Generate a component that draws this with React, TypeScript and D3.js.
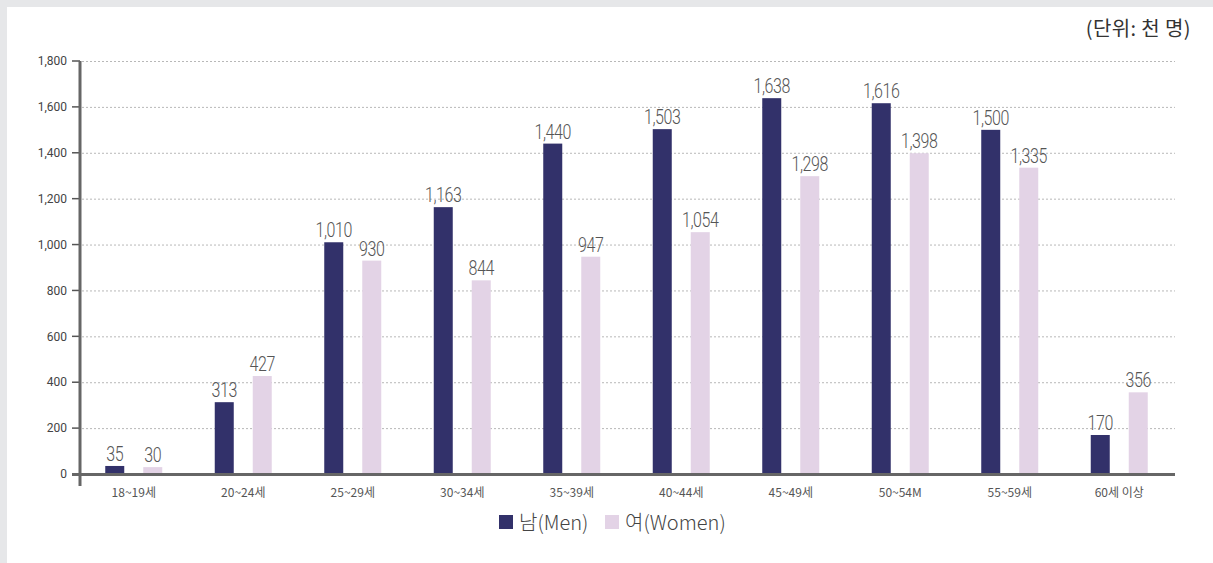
import React from "react";
import * as d3 from "d3";

const categories = ["18~19세", "20~24세", "25~29세", "30~34세", "35~39세", "40~44세", "45~49세", "50~54M", "55~59세", "60세 이상"];
const menValues = [35, 313, 1010, 1163, 1440, 1503, 1638, 1616, 1500, 170];
const womenValues = [30, 427, 930, 844, 947, 1054, 1298, 1398, 1335, 356];
const yTicks = [0, 200, 400, 600, 800, 1000, 1200, 1400, 1600, 1800];
const seriesNames = ["남(Men)", "여(Women)"];
const unitLabel = "(단위: 천 명)";

const W = 1213;
const H = 563;
const MEN = "#32316a";
const WOMEN = "#e3d3e6";

export default function App() {
  const x = d3.scaleBand<string>().domain(categories).range([80, 1175]);
  const y = d3.scaleLinear().domain([0, 1800]).range([474, 61]);
  const fmt = d3.format(",");
  const barW = 19;
  const off = 19;
  const labelFont = "Roboto, 'Noto Sans', sans-serif";

  const valueLabel = (cx: number, v: number) => (
    <text
      transform={`translate(${cx},${y(v) - 5}) scale(0.8,1)`}
      textAnchor="middle"
      fontSize={20}
      fill="#555"
      fontWeight={300}
      letterSpacing={-0.5}
      fontFamily={labelFont}
    >
      {fmt(v)}
    </text>
  );

  return (
    <svg width={W} height={H} style={{ position: "absolute", left: 0, top: 0 }} fontFamily="'Noto Sans', 'Noto Sans CJK KR', sans-serif">
      <rect x={0} y={0} width={W} height={H} fill="#e6e7e9" />
      <rect x={7} y={7} width={W - 7} height={H - 7} fill="#ffffff" />
      <text x={1191} y={36} textAnchor="end" fontSize={20} fill="#333" letterSpacing={0.4} fontFamily="'Noto Sans CJK KR', sans-serif">{unitLabel}</text>
      {yTicks.map((t) => (
        <g key={t}>
          {t > 0 && (
            <line x1={82} x2={1175} y1={y(t) + 0.5} y2={y(t) + 0.5} stroke="#b8b8b8" strokeWidth={1} strokeDasharray="2,2" />
          )}
          <line x1={72} x2={80} y1={y(t)} y2={y(t)} stroke="#555" strokeWidth={1.5} />
          <text x={67} y={y(t)} dy="0.35em" textAnchor="end" fontSize={12} fill="#444" fontFamily={labelFont}>{fmt(t)}</text>
        </g>
      ))}
      {categories.map((c, i) => {
        const cx = (x(c) as number) + x.bandwidth() / 2 - 1;
        const m = menValues[i];
        const w = womenValues[i];
        return (
          <g key={c}>
            <rect x={cx - off - barW / 2} y={y(m)} width={barW} height={y(0) - y(m)} fill={MEN} />
            <rect x={cx + off - barW / 2} y={y(w)} width={barW} height={y(0) - y(w)} fill={WOMEN} />
            {valueLabel(cx - off, m)}
            {valueLabel(cx + off, w)}
            <text x={cx} y={497} textAnchor="middle" fontSize={12} fill="#555" fontFamily="'Noto Sans CJK KR', sans-serif">{c}</text>
          </g>
        );
      })}
      <line x1={72} x2={1175} y1={474.5} y2={474.5} stroke="#666" strokeWidth={3} />
      <line x1={80} x2={80} y1={61} y2={486} stroke="#666" strokeWidth={3} />
      <g>
        <rect x={499} y={515} width={14} height={14} fill={MEN} />
        <text x={519} y={530} fontSize={20} fill="#444" fontFamily="'Noto Sans CJK KR', sans-serif" fontWeight={300}>{seriesNames[0]}</text>
        <rect x={605} y={515} width={14} height={14} fill={WOMEN} />
        <text x={625} y={530} fontSize={20} fill="#444" fontFamily="'Noto Sans CJK KR', sans-serif" fontWeight={300}>{seriesNames[1]}</text>
      </g>
    </svg>
  );
}
